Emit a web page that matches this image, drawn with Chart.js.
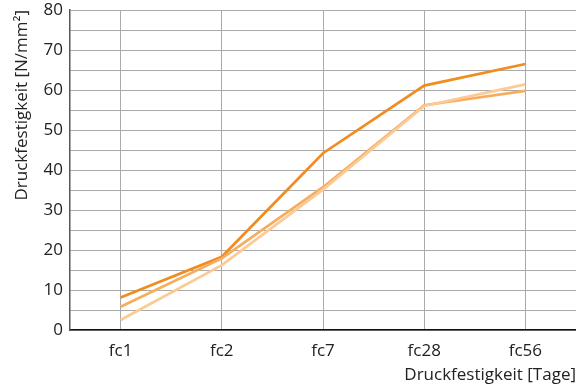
<!DOCTYPE html>
<html>
<head>
<meta charset="utf-8">
<script src="https://cdn.jsdelivr.net/npm/chart.js@4.4.1/dist/chart.umd.min.js"></script>
<style>
  html, body { margin: 0; padding: 0; background: #fff; }
  #wrap { width: 576px; height: 385px; }
</style>
</head>
<body>
<div id="wrap"><canvas id="chart1"></canvas></div>
<script>
const categories = ['fc1', 'fc2', 'fc7', 'fc28', 'fc56'];
const seriesDark = [8.1, 18.3, 44.2, 61.1, 66.5];
const seriesMid = [5.8, 17.9, 35.7, 56.2, 59.8];
const seriesLight = [2.5, 16.2, 35.1, 56.0, 61.4];

const font = { family: 'Open Sans', size: 17 };

new Chart(document.getElementById('chart1'), {
    type: 'line',
    data: {
        labels: categories,
        datasets: [
            { data: seriesLight, borderColor: '#fcca95', borderWidth: 2.7, pointRadius: 0, tension: 0 },
            { data: seriesMid, borderColor: '#f7ad5e', borderWidth: 2.7, pointRadius: 0, tension: 0 },
            { data: seriesDark, borderColor: '#f18c1f', borderWidth: 2.7, pointRadius: 0, tension: 0 }
        ]
    },
    options: {
        responsive: true,
        maintainAspectRatio: false,
        animation: false,
        layout: { padding: 0 },
        plugins: { legend: { display: false }, tooltip: { enabled: false } },
        scales: {
            x: {
                offset: true,
                grid: { offset: false, color: '#aaaaaa', drawTicks: false },
                border: { color: '#111111', width: 1.5 },
                ticks: { color: '#222', font: font, padding: 11 },
                title: { display: true, text: 'Druckfestigkeit [Tage]', align: 'end', color: '#222', font: font, padding: 0 },
                afterFit: s => { s.height = 55; }
            },
            y: {
                min: 0,
                max: 80,
                grid: { color: '#aaaaaa', drawTicks: false },
                border: { color: '#555555', width: 1.5 },
                ticks: {
                    stepSize: 5,
                    autoSkip: false,
                    color: '#222',
                    font: font,
                    padding: 7,
                    callback: v => (v % 10 === 0 ? v : '')
                },
                title: { display: true, text: 'Druckfestigkeit [N/mm²]', align: 'end', color: '#222', font: font, padding: { top: 12 } },
                afterFit: s => { s.width = 70; s.paddingTop = 10; }
            }
        }
    }
});
</script>
</body>
</html>
